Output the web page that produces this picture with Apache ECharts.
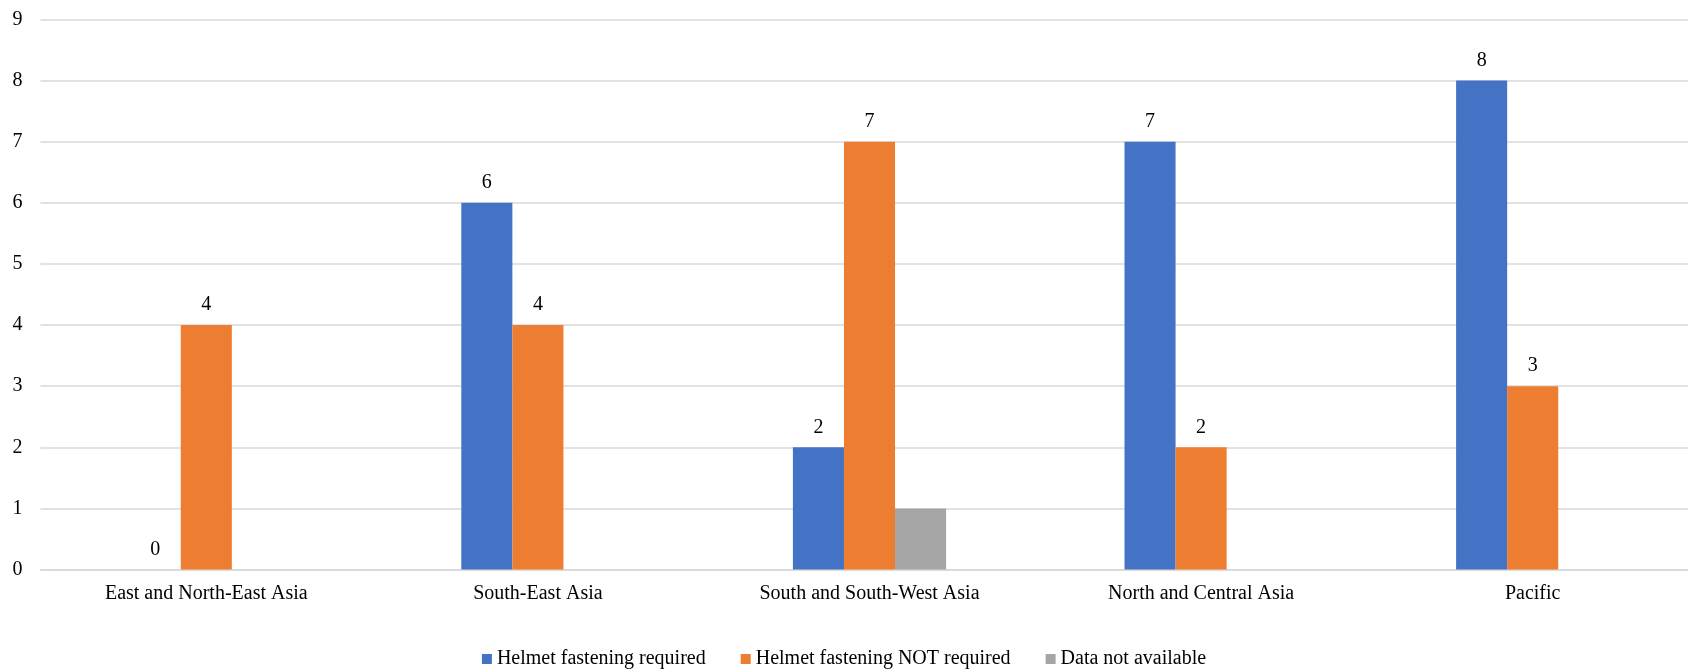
<!DOCTYPE html>
<html>
<head>
<meta charset="utf-8">
<script src="https://cdn.jsdelivr.net/npm/echarts@6/dist/echarts.min.js"></script>
<style>
html,body{margin:0;padding:0;background:#fff;}
#c{width:1688px;height:670px;}
</style>
</head>
<body>
<div id="c"></div>
<script>
const categories = ["East and North-East Asia","South-East Asia","South and South-West Asia","North and Central Asia","Pacific"];
const seriesNames = ["Helmet fastening required","Helmet fastening NOT required","Data not available"];
const required = [0, 6, 2, 7, 8];
const notRequired = [4, 4, 7, 2, 3];
const notAvailable = [null, null, 1, null, null];
const yTicks = [0,1,2,3,4,5,6,7,8,9];

const colors = ["#4472C4","#ED7D31","#A5A5A5"];
const font = "'Liberation Serif','Times New Roman',serif";
const chart = echarts.init(document.getElementById('c'));
const lbl = {show:true, position:'top', distance:10, color:'#000', fontFamily:font, fontSize:20};
chart.setOption({
  animation:false,
  color: colors,
  textStyle:{fontFamily:font},
  grid:{left:40.5, width:1658, top:19.5, height:550, containLabel:false, outerBoundsMode:'none'},
  legend:{
    top:649, left:'center', itemWidth:10, itemHeight:10, itemGap:35, padding:0,
    icon:'rect',
    textStyle:{fontFamily:font, fontSize:20, color:'#000'},
    data: seriesNames
  },
  xAxis:{
    type:'category', data:categories,
    axisLine:{show:true, lineStyle:{color:'#D9D9D9', width:1.5}},
    axisTick:{show:false},
    axisLabel:{color:'#000', fontFamily:font, fontSize:20, margin:14}
  },
  yAxis:{
    type:'value', min:yTicks[0], max:yTicks[yTicks.length-1], interval:1,
    axisLine:{show:false}, axisTick:{show:false},
    splitLine:{lineStyle:{color:'#D9D9D9', width:1.5}},
    axisLabel:{color:'#000', fontFamily:font, fontSize:20, margin:18}
  },
  series:[
    {name:seriesNames[0], type:'bar', data:required, barGap:'0%', barCategoryGap:'53.8%', label:lbl},
    {name:seriesNames[1], type:'bar', data:notRequired, barGap:'0%', barCategoryGap:'53.8%', label:lbl},
    {name:seriesNames[2], type:'bar', data:notAvailable, barGap:'0%', barCategoryGap:'53.8%', label:{show:false}}
  ]
});
</script>
</body>
</html>
